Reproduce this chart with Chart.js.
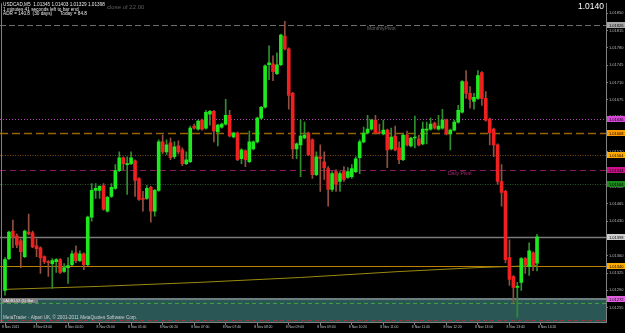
<!DOCTYPE html>
<html>
<head>
<meta charset="utf-8">
<script src="https://cdn.jsdelivr.net/npm/chart.js@4.4.1/dist/chart.umd.min.js"></script>
<style>
  html, body { margin: 0; padding: 0; background: #000; }
</style>
</head>
<body>
<canvas id="grafica" width="625" height="333"></canvas>
<script>
// USDCAD M5 — velas de 5 minutos, 8 Nov 2011

// ── Datos de las velas (apertura, máximo, mínimo, cierre) ──
const apertura = [
  1.01290, 1.01354, 1.01410, 1.01400, 1.01390, 1.01358, 1.01408, 1.01406, 1.01380, 1.01376,
  1.01358, 1.01348, 1.01344, 1.01348, 1.01352, 1.01328, 1.01336, 1.01342, 1.01366, 1.01350,
  1.01364, 1.01342, 1.01438, 1.01492, 1.01492, 1.01502, 1.01450, 1.01480, 1.01496, 1.01532,
  1.01558, 1.01544, 1.01546, 1.01552, 1.01516, 1.01476, 1.01476, 1.01498, 1.01450, 1.01492,
  1.01590, 1.01570, 1.01588, 1.01560, 1.01582, 1.01574, 1.01546, 1.01550, 1.01622, 1.01616,
  1.01634, 1.01618, 1.01646, 1.01652, 1.01610, 1.01620, 1.01626, 1.01644, 1.01600, 1.01608,
  1.01556, 1.01572, 1.01550, 1.01576, 1.01590, 1.01638, 1.01660, 1.01746, 1.01748, 1.01728,
  1.01746, 1.01804, 1.01778, 1.01688, 1.01576, 1.01584, 1.01598, 1.01608, 1.01594, 1.01524,
  1.01560, 1.01550, 1.01536, 1.01494, 1.01530, 1.01510, 1.01530, 1.01518, 1.01520, 1.01530,
  1.01558, 1.01590, 1.01608, 1.01616, 1.01634, 1.01610, 1.01606, 1.01614, 1.01576, 1.01602,
  1.01578, 1.01554, 1.01604, 1.01582, 1.01598, 1.01596, 1.01586, 1.01614, 1.01616, 1.01628,
  1.01616, 1.01618, 1.01634, 1.01606, 1.01614, 1.01630, 1.01650, 1.01712, 1.01688, 1.01672,
  1.01678, 1.01730, 1.01678, 1.01636, 1.01616, 1.01584, 1.01510, 1.01490, 1.01356, 1.01318,
  1.01296, 1.01306, 1.01354, 1.01338, 1.01366, 1.01345
];
const maximo = [
  1.01356, 1.01410, 1.01432, 1.01404, 1.01394, 1.01412, 1.01444, 1.01410, 1.01394, 1.01378,
  1.01360, 1.01350, 1.01354, 1.01354, 1.01354, 1.01344, 1.01356, 1.01370, 1.01380, 1.01370,
  1.01366, 1.01440, 1.01506, 1.01506, 1.01502, 1.01506, 1.01480, 1.01506, 1.01544, 1.01570,
  1.01560, 1.01560, 1.01570, 1.01554, 1.01518, 1.01490, 1.01502, 1.01500, 1.01494, 1.01594,
  1.01604, 1.01594, 1.01598, 1.01590, 1.01592, 1.01578, 1.01570, 1.01622, 1.01626, 1.01634,
  1.01636, 1.01654, 1.01654, 1.01654, 1.01626, 1.01628, 1.01676, 1.01654, 1.01610, 1.01610,
  1.01576, 1.01574, 1.01612, 1.01592, 1.01640, 1.01662, 1.01746, 1.01784, 1.01764, 1.01770,
  1.01808, 1.01834, 1.01780, 1.01690, 1.01588, 1.01634, 1.01630, 1.01610, 1.01596, 1.01570,
  1.01584, 1.01570, 1.01540, 1.01530, 1.01534, 1.01530, 1.01540, 1.01538, 1.01544, 1.01560,
  1.01594, 1.01620, 1.01644, 1.01636, 1.01644, 1.01626, 1.01634, 1.01616, 1.01618, 1.01622,
  1.01590, 1.01606, 1.01612, 1.01600, 1.01642, 1.01604, 1.01630, 1.01630, 1.01638, 1.01630,
  1.01644, 1.01656, 1.01636, 1.01616, 1.01634, 1.01664, 1.01714, 1.01734, 1.01702, 1.01688,
  1.01734, 1.01732, 1.01692, 1.01638, 1.01618, 1.01586, 1.01544, 1.01492, 1.01392, 1.01320,
  1.01306, 1.01356, 1.01356, 1.01386, 1.01368, 1.01403
];
const minimo = [
  1.01280, 1.01352, 1.01376, 1.01376, 1.01336, 1.01356, 1.01402, 1.01376, 1.01358, 1.01324,
  1.01344, 1.01318, 1.01294, 1.01326, 1.01324, 1.01326, 1.01304, 1.01340, 1.01346, 1.01348,
  1.01332, 1.01340, 1.01430, 1.01476, 1.01476, 1.01452, 1.01448, 1.01478, 1.01494, 1.01530,
  1.01534, 1.01484, 1.01544, 1.01480, 1.01472, 1.01450, 1.01474, 1.01428, 1.01440, 1.01490,
  1.01566, 1.01564, 1.01554, 1.01556, 1.01566, 1.01542, 1.01544, 1.01548, 1.01616, 1.01614,
  1.01614, 1.01616, 1.01624, 1.01590, 1.01582, 1.01618, 1.01624, 1.01600, 1.01598, 1.01552,
  1.01546, 1.01540, 1.01548, 1.01574, 1.01588, 1.01636, 1.01658, 1.01716, 1.01714, 1.01726,
  1.01744, 1.01776, 1.01656, 1.01556, 1.01556, 1.01520, 1.01596, 1.01562, 1.01516, 1.01522,
  1.01490, 1.01514, 1.01460, 1.01490, 1.01490, 1.01490, 1.01510, 1.01516, 1.01516, 1.01528,
  1.01526, 1.01588, 1.01606, 1.01614, 1.01606, 1.01606, 1.01604, 1.01538, 1.01574, 1.01572,
  1.01546, 1.01552, 1.01582, 1.01580, 1.01578, 1.01582, 1.01584, 1.01586, 1.01614, 1.01616,
  1.01614, 1.01616, 1.01604, 1.01574, 1.01612, 1.01628, 1.01648, 1.01678, 1.01658, 1.01656,
  1.01676, 1.01664, 1.01632, 1.01584, 1.01560, 1.01504, 1.01460, 1.01346, 1.01300, 1.01264,
  1.01236, 1.01290, 1.01324, 1.01320, 1.01330, 1.01329
];
const cierre = [
  1.01352, 1.01408, 1.01398, 1.01382, 1.01368, 1.01410, 1.01404, 1.01378, 1.01374, 1.01356,
  1.01348, 1.01346, 1.01350, 1.01352, 1.01326, 1.01336, 1.01340, 1.01364, 1.01350, 1.01364,
  1.01342, 1.01438, 1.01492, 1.01496, 1.01500, 1.01454, 1.01478, 1.01498, 1.01532, 1.01558,
  1.01546, 1.01546, 1.01558, 1.01512, 1.01474, 1.01474, 1.01496, 1.01450, 1.01492, 1.01590,
  1.01570, 1.01584, 1.01558, 1.01580, 1.01570, 1.01546, 1.01554, 1.01618, 1.01618, 1.01632,
  1.01616, 1.01650, 1.01652, 1.01612, 1.01624, 1.01626, 1.01644, 1.01602, 1.01608, 1.01554,
  1.01574, 1.01554, 1.01590, 1.01590, 1.01638, 1.01660, 1.01744, 1.01750, 1.01732, 1.01746,
  1.01806, 1.01778, 1.01684, 1.01576, 1.01586, 1.01602, 1.01604, 1.01564, 1.01524, 1.01560,
  1.01556, 1.01538, 1.01494, 1.01526, 1.01504, 1.01526, 1.01514, 1.01530, 1.01536, 1.01556,
  1.01590, 1.01608, 1.01616, 1.01634, 1.01608, 1.01608, 1.01614, 1.01574, 1.01600, 1.01574,
  1.01554, 1.01604, 1.01584, 1.01598, 1.01600, 1.01584, 1.01616, 1.01616, 1.01626, 1.01618,
  1.01622, 1.01634, 1.01606, 1.01614, 1.01630, 1.01654, 1.01712, 1.01688, 1.01676, 1.01680,
  1.01724, 1.01678, 1.01634, 1.01608, 1.01584, 1.01510, 1.01488, 1.01352, 1.01312, 1.01296,
  1.01298, 1.01354, 1.01342, 1.01370, 1.01342, 1.01398
];

// ── Media móvil (lectura en algunas velas) ──
const mediaIndice = [0, 24, 49, 75, 100, 120, 135];
const mediaValor  = [1.01292, 1.01298, 1.01306, 1.01316, 1.01328, 1.01336, 1.01340];

// ── Niveles horizontales (pivotes, precio actual, etc.) ──
const nivelPrecio = [1.01826, 1.01636, 1.01608, 1.01564, 1.01534, 1.01504, 1.01398, 1.01340];
const bandaSuperior = 1.01272;
const bandaLineas   = [1.01264, 1.01230];

// ── Etiquetas de los ejes ──
const tiempoPosicion = [0, 8, 16, 24, 32, 40, 48, 56, 64, 72, 80, 88, 96, 104, 112, 120, 128, 136];
const tiempoEtiqueta = [
  '8 Nov 2011', '8 Nov 03:40', '8 Nov 04:20', '8 Nov 05:00', '8 Nov 05:40', '8 Nov 06:20',
  '8 Nov 07:00', '8 Nov 07:40', '8 Nov 08:20', '8 Nov 09:00', '8 Nov 09:40', '8 Nov 10:20',
  '8 Nov 11:00', '8 Nov 11:40', '8 Nov 12:20', '8 Nov 13:00', '8 Nov 13:40', '8 Nov 14:20'
];
const precioTicks = [
  1.01850, 1.01815, 1.01780, 1.01745, 1.01710, 1.01675, 1.01640, 1.01605, 1.01570,
  1.01535, 1.01500, 1.01465, 1.01430, 1.01395, 1.01360, 1.01325, 1.01290, 1.01255
];

// ── Estilos ──
const FUENTE = '"Liberation Sans", Arial, sans-serif';
const VERDE = '#1ee81e', ROJO = '#ee2020';
const MECHA_VERDE = '#2f8f2f', MECHA_ROJA = '#915040';

const nivelEstilo = [
  { color: '#6e6e6e', ancho: 1,   trazo: [6, 3], caja: '#a8a8a8' },
  { color: '#b040b0', ancho: 1,   trazo: [1, 2], caja: '#d848d8' },
  { color: '#9a6400', ancho: 1.5, trazo: [8, 4], caja: '#ff9a00' },
  { color: '#7a4a10', ancho: 1,   trazo: [1, 1.5], caja: '#ffaa00' },
  { color: '#8a1a60', ancho: 1,   trazo: [6, 4], caja: '#cc1188' },
  { color: '#2a5a2a', ancho: 1,   trazo: [1, 1.5], caja: '#1a8a1a' },
  { color: '#7a7a7a', ancho: 1.5, trazo: [], caja: '#cfcfcf' },
  { color: '#c08000', ancho: 1,   trazo: [], caja: '#ffaa00' }
];

const esAlcista = i => cierre[i] >= apertura[i];

// Cuerpos y mechas como barras flotantes
const cuerpos = apertura.map((o, i) => ({ x: i, y: [o, cierre[i]] }));
const mechas  = apertura.map((o, i) => ({ x: i, y: [minimo[i], maximo[i]] }));
const media   = mediaIndice.map((x, k) => ({ x, y: mediaValor[k] }));


// ─────────────────────────────────────────────────────────────
// Fondo, niveles, banda inferior y textos del terminal
// ─────────────────────────────────────────────────────────────
const fondoNegro = {
  id: 'fondoNegro',
  beforeDraw(chart) {
    const { ctx, width, height } = chart;
    ctx.save();
    ctx.fillStyle = '#000';
    ctx.fillRect(0, 0, width, height);
    ctx.restore();
  }
};

const niveles = {
  id: 'niveles',
  beforeDatasetsDraw(chart) {
    const { ctx, chartArea: a, scales: { y } } = chart;
    ctx.save();
    ctx.beginPath();
    ctx.rect(a.left, a.top, a.right - a.left, a.bottom - a.top);
    ctx.clip();

    // banda inferior
    const yb = Math.round(y.getPixelForValue(bandaSuperior));
    ctx.fillStyle = '#2b5656';
    ctx.fillRect(a.left, yb, a.right - a.left, a.bottom - yb);
    ctx.fillStyle = '#6d7f7f';
    ctx.fillRect(a.left, yb - 1, a.right - a.left, 2);

    ctx.lineWidth = 1;
    [['#3fa03f', [4, 3]], ['#a03030', [4, 3]]].forEach(([c, d], k) => {
      const py = Math.round(y.getPixelForValue(bandaLineas[k])) + 0.5;
      ctx.strokeStyle = c;
      ctx.setLineDash(d);
      ctx.beginPath();
      ctx.moveTo(a.left, py);
      ctx.lineTo(a.right, py);
      ctx.stroke();
    });

    // niveles
    nivelPrecio.forEach((p, k) => {
      const e = nivelEstilo[k];
      const py = Math.round(y.getPixelForValue(p)) + 0.5;
      ctx.strokeStyle = e.color;
      ctx.lineWidth = e.ancho;
      ctx.setLineDash(e.trazo);
      ctx.beginPath();
      ctx.moveTo(a.left, py);
      ctx.lineTo(a.right, py);
      ctx.stroke();
    });
    ctx.restore();
  },

  afterDraw(chart) {
    const { ctx, chartArea: a, scales: { y } } = chart;
    ctx.save();
    ctx.textBaseline = 'middle';

    // cajas de precio en el eje derecho
    const cajas = nivelPrecio.map((p, k) => [p, nivelEstilo[k].caja]);
    cajas.push([bandaSuperior, '#e060e0']);
    cajas.forEach(([p, c]) => {
      const py = Math.round(y.getPixelForValue(p));
      ctx.fillStyle = c;
      ctx.fillRect(a.right + 1, py - 3, 625 - a.right - 1, 6);
      ctx.fillStyle = '#000';
      ctx.font = '4px ' + FUENTE;
      ctx.textAlign = 'left';
      ctx.fillText(p.toFixed(5), a.right + 3, py + 0.5);
    });

    // marco
    ctx.strokeStyle = '#808080';
    ctx.lineWidth = 1;
    ctx.beginPath();
    ctx.moveTo(1.5, a.top);
    ctx.lineTo(1.5, a.bottom);
    ctx.stroke();

    // cabecera
    ctx.fillStyle = '#e8e8e8';
    ctx.font = '4.7px ' + FUENTE;
    ctx.fillText('USDCAD,M5  1.01345 1.01403 1.01329 1.01398', 3, 4.8);
    ctx.fillText('1 minutes 41 seconds left to bar end', 3, 9.5);
    ctx.fillText('ADR = 140.8  (30 days)      Today = 84.8', 3, 14);

    ctx.fillStyle = '#5e5e5e';
    ctx.font = '6px ' + FUENTE;
    ctx.fillText('close of 22.00', 107, 7);

    ctx.fillStyle = '#ffffff';
    ctx.font = '8.5px ' + FUENTE;
    ctx.textAlign = 'right';
    ctx.fillText('1.0140', 604, 6.5);

    ctx.textAlign = 'left';
    ctx.font = '5px ' + FUENTE;
    ctx.fillStyle = '#6a6a6a';
    ctx.fillText('MonthlyPivot', 367, y.getPixelForValue(nivelPrecio[0]) + 3);
    ctx.fillStyle = '#a0286e';
    ctx.fillText('Daily Pivot', 448, y.getPixelForValue(nivelPrecio[4]) + 4);

    // rótulos de la banda
    const yb = Math.round(y.getPixelForValue(bandaSuperior));
    ctx.fillStyle = '#7c7c7c';
    ctx.fillRect(2, yb - 1, 36, 5);
    ctx.fillStyle = '#f0f0f0';
    ctx.font = '4px ' + FUENTE;
    ctx.fillText('#ADRL57 (1) Bot', 3, yb + 1.5);
    ctx.fillStyle = '#d0d0d0';
    ctx.font = '4.6px ' + FUENTE;
    ctx.fillText('MetaTrader - Alpari UK, \u00a9 2001-2011 MetaQuotes Software Corp.', 3, 318);
    ctx.restore();
  }
};


// ─────────────────────────────────────────────────────────────
// Gráfica de velas con barras flotantes
// ─────────────────────────────────────────────────────────────
new Chart(document.getElementById('grafica').getContext('2d'), {
  type: 'bar',
  data: {
    datasets: [
      {
        label: 'cuerpos',
        data: cuerpos,
        order: 0,
        barThickness: 3,
        grouped: false,
        backgroundColor: c => esAlcista(c.dataIndex) ? VERDE : ROJO
      },
      {
        label: 'mechas',
        data: mechas,
        order: 1,
        barThickness: 1,
        grouped: false,
        backgroundColor: c => esAlcista(c.dataIndex) ? MECHA_VERDE : MECHA_ROJA
      },
      {
        type: 'line',
        label: 'media',
        data: media,
        order: 2,
        borderColor: '#9a8a10',
        borderWidth: 1,
        pointRadius: 0,
        tension: 0
      }
    ]
  },
  options: {
    responsive: false,
    animation: false,
    layout: { padding: 0 },
    plugins: {
      legend: { display: false },
      tooltip: { enabled: false }
    },
    scales: {
      x: {
        type: 'linear',
        offset: false,
        min: -1.27,
        max: 152.5,
        afterBuildTicks: s => { s.ticks = tiempoPosicion.map(v => ({ value: v })); },
        afterFit: s => { s.height = 11; },
        grid: { drawOnChartArea: false, offset: false, tickLength: 3, color: '#808080' },
        border: { color: '#808080' },
        ticks: {
          autoSkip: false,
          maxRotation: 0,
          align: 'start',
          labelOffset: -3,
          padding: 0,
          color: '#c8c8c8',
          font: { size: 3.4, family: FUENTE },
          callback: v => tiempoEtiqueta[tiempoPosicion.indexOf(v)]
        }
      },
      y: {
        type: 'linear',
        position: 'right',
        min: 1.01226,
        max: 1.01870,
        afterBuildTicks: s => { s.ticks = precioTicks.map(v => ({ value: v })); },
        afterFit: s => { s.width = 19; },
        grid: { drawOnChartArea: false, tickLength: 2, color: '#808080' },
        border: { color: '#808080' },
        ticks: {
          autoSkip: false,
          padding: 1,
          color: '#b8b8b8',
          font: { size: 4, family: FUENTE },
          callback: v => v.toFixed(5)
        }
      }
    }
  },
  plugins: [fondoNegro, niveles]
});
</script>
</body>
</html>
